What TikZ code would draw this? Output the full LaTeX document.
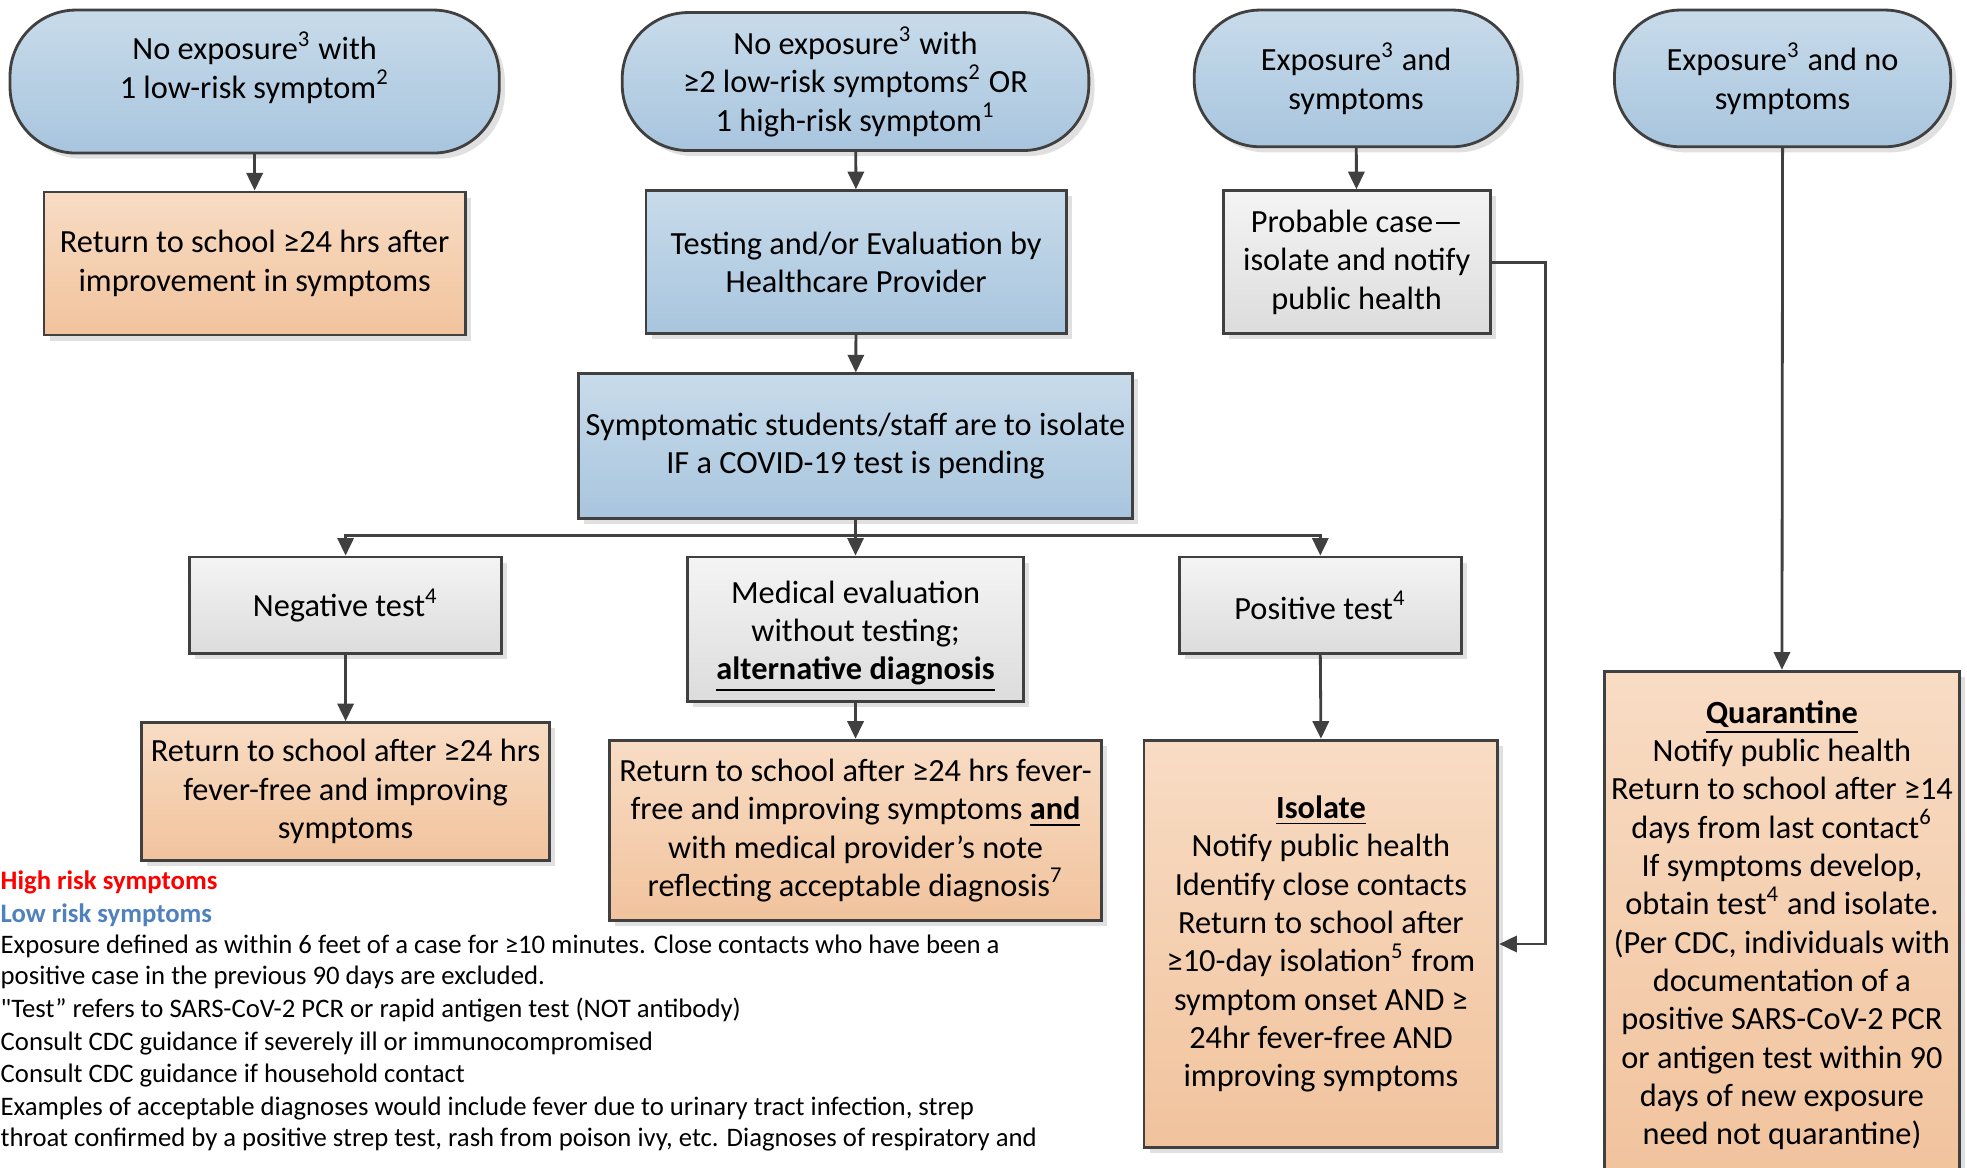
\documentclass[tikz,border=0pt]{standalone}
\usepackage{fontspec}
\setmainfont{Carlito}[Ligatures=TeXOff]
\usetikzlibrary{arrows.meta,shadows,calc}
\definecolor{edge}{HTML}{404040}
\definecolor{bluetop}{HTML}{C8DBEA}
\definecolor{bluebot}{HTML}{A8C5DE}
\definecolor{orgtop}{HTML}{F8DCC4}
\definecolor{orgbot}{HTML}{F1C39D}
\definecolor{graytop}{HTML}{F4F4F4}
\definecolor{graybot}{HTML}{DCDCDC}
\definecolor{lowblue}{HTML}{4F81BD}
\definecolor{highred}{HTML}{FF0000}
\begin{document}
\begin{tikzpicture}[x=0.012545cm,y=-0.012545cm,
  sz/.style 2 args={minimum width=#1*0.012545cm, minimum height=#2*0.012545cm},
  box/.style={draw=edge, line width=0.8pt, align=center, inner sep=0pt, text=black,
    font=\fontsize{9.2}{10.9}\selectfont,
    drop shadow={shadow xshift=1.6pt, shadow yshift=-1.6pt, fill=black!20, opacity=0.6}},
  bluebox/.style={box, top color=bluetop, bottom color=bluebot},
  orgbox/.style={box, top color=orgtop, bottom color=orgbot},
  graybox/.style={box, top color=graytop, bottom color=graybot},
  term/.style={bluebox, rounded corners=0.66cm},
  arr/.style={draw=edge, line width=0.8pt, -{Triangle[length=5pt,width=4.6pt]}},
  legend/.style={inner sep=0pt, anchor=base west, font=\fontsize{7.6}{9}\selectfont}
]
\useasboundingbox (0,0) rectangle (1568,931);

% top terminators
\node[term, sz={390}{114}] (t1) at (203,65) {No exposure\textsuperscript{3} with\\1 low-risk symptom\textsuperscript{2}\rule[-9.5pt]{0pt}{9.5pt}};
\node[term, sz={372}{110}] (t2) at (682,65) {No exposure\textsuperscript{3} with\\≥2 low-risk symptoms\textsuperscript{2} OR\\1 high-risk symptom\textsuperscript{1}};
\node[term, sz={258}{109}] (t3) at (1081,62.5) {Exposure\textsuperscript{3} and\\symptoms};
\node[term, sz={268}{109}] (t4) at (1421,62.5) {Exposure\textsuperscript{3} and no\\symptoms};

% second row
\node[orgbox, sz={336}{114}] (o1) at (203,210) {Return to school ≥24 hrs after\\improvement in symptoms};
\node[bluebox, sz={335}{114}] (b2) at (682.5,209) {Testing and/or Evaluation by\\Healthcare Provider};
\node[graybox, sz={213}{114}] (g3) at (1081.5,209) {Probable case—\\isolate and notify\\public health};

% third row
\node[bluebox, sz={442}{115}] (b3) at (682,355.5) {Symptomatic students/staff are to isolate\\IF a COVID-19 test is pending};

% fourth row
\node[graybox, sz={249}{77}] (g4) at (275.5,482.5) {Negative test\textsuperscript{4}};
\node[graybox, sz={268}{115}] (g5) at (682,501.5) {\rule{0pt}{10.5pt}Medical evaluation\\without testing;\\\underline{\textbf{alternative diagnosis}}};
\node[graybox, sz={225}{77}] (g6) at (1052.5,482.5) {Positive test\textsuperscript{4}};

% outcome row
\node[orgbox, sz={325}{110}] (o4) at (275.5,631) {Return to school after ≥24 hrs\\fever-free and improving\\symptoms};
\node[orgbox, sz={392}{144}] (o5) at (682,662) {Return to school after ≥24 hrs fever-\\free and improving symptoms \underline{\textbf{and}}\\with medical provider’s note\\reflecting acceptable diagnosis\textsuperscript{7}};
\node[orgbox, sz={282}{325}] (o6) at (1053,752.5) {\underline{\textbf{Isolate}}\\Notify public health\\Identify close contacts\\Return to school after\\≥10-day isolation\textsuperscript{5} from\\symptom onset AND ≥\\24hr fever-free AND\\improving symptoms};
\node[orgbox, sz={283}{405}] (o7) at (1420.5,737.5) {\underline{\textbf{Quarantine}}\\Notify public health\\Return to school after ≥14\\days from last contact\textsuperscript{6}\\If symptoms develop,\\obtain test\textsuperscript{4} and isolate.\\(Per CDC, individuals with\\documentation of a\\positive SARS-CoV-2 PCR\\or antigen test within 90\\days of new exposure\\need not quarantine)};

% connectors
\draw[arr] (t1) -- (o1);
\draw[arr] (t2) -- (b2);
\draw[arr] (b2) -- (b3);
\draw[arr] (t3) -- (g3);
\draw[arr] (t4.south) -- (o7.north);
\coordinate (br) at (682,427);
\draw[arr] (b3.south) -- (g5.north);
\draw[arr] (br) -| (g4.north);
\draw[arr] (br) -| (g6.north);
\draw[arr] (g4) -- (o4);
\draw[arr] (g5) -- (o5);
\draw[arr] (g6.south) -- (o6.north);
\coordinate (rj) at (1232,752.5);
\draw[arr] (g3.east) -| (rj) -- (o6.east);

% legend
\node[legend, text=highred, font=\fontsize{7.6}{9}\selectfont\bfseries] (l1) at (0,709) {High risk symptoms};
\node[legend, text=lowblue, font=\fontsize{7.6}{9}\selectfont\bfseries] (l2) at (0,735) {Low risk symptoms};
\node[legend] (l3) at (0,760) {Exposure defined as within 6 feet of a case for ≥10 minutes. Close contacts who have been a};
\node[legend] (l4) at (0,785) {positive case in the previous 90 days are excluded.};
\node[legend] (l5) at (0,811) {"Test” refers to SARS-CoV-2 PCR or rapid antigen test (NOT antibody)};
\node[legend] (l6) at (0,837) {Consult CDC guidance if severely ill or immunocompromised};
\node[legend] (l7) at (0,863) {Consult CDC guidance if household contact};
\node[legend] (l8) at (0,889) {Examples of acceptable diagnoses would include fever due to urinary tract infection, strep};
\node[legend] (l9) at (0,914) {throat confirmed by a positive strep test, rash from poison ivy, etc. Diagnoses of respiratory and};
\end{tikzpicture}
\end{document}
